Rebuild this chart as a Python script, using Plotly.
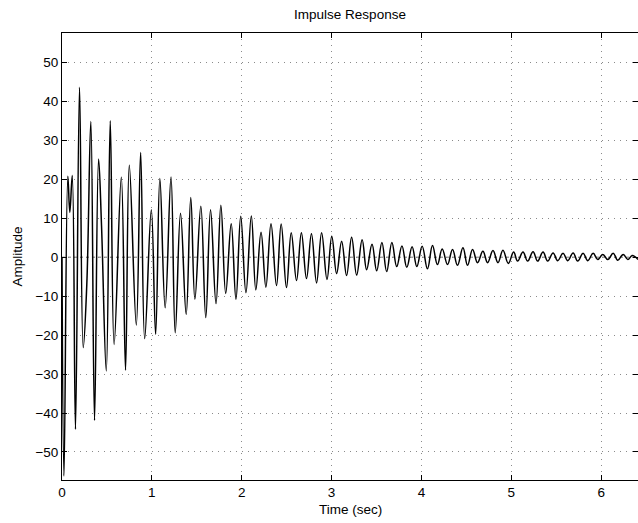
import plotly.graph_objects as go

# Extrema (and a few shape points) of the impulse response
time_sec = [
    0.000, 0.022, 0.065, 0.087, 0.114, 0.150, 0.195, 0.236, 0.276, 0.321,
    0.362, 0.407, 0.440, 0.493, 0.537, 0.580, 0.660, 0.707, 0.749, 0.827,
    0.875, 0.920, 0.994, 1.042, 1.089, 1.148, 1.213, 1.260, 1.319, 1.382,
    1.433, 1.479, 1.545, 1.600, 1.653, 1.714, 1.768, 1.822, 1.883, 1.936,
    1.989, 2.047, 2.107, 2.157, 2.215, 2.269, 2.326, 2.387, 2.439, 2.498,
    2.551, 2.610, 2.664, 2.721, 2.776, 2.833, 2.889, 2.949, 3.002, 3.056,
    3.112, 3.167, 3.223, 3.279, 3.340, 3.390, 3.450, 3.502, 3.560, 3.613,
    3.671, 3.725, 3.783, 3.837, 3.896, 3.949, 4.008, 4.067, 4.123, 4.178,
    4.231, 4.290, 4.346, 4.401, 4.462, 4.513, 4.569, 4.624, 4.684, 4.736,
    4.796, 4.852, 4.907, 4.967, 5.026, 5.070, 5.130, 5.182, 5.242, 5.293,
    5.353, 5.405, 5.465, 5.516, 5.576, 5.628, 5.688, 5.739, 5.799, 5.851,
    5.911, 5.962, 6.018, 6.074, 6.134, 6.185, 6.245, 6.297, 6.346, 6.410,
]
amplitude = [
    0.0, -56.2, 20.8, 11.5, 21.0, -44.2, 43.6, -23.2, -7.0, 34.8,
    -41.9, 25.2, 8.0, -29.2, 35.0, -22.4, 20.5, -29.0, 23.6, -17.4,
    26.9, -20.9, 12.2, -19.8, 20.2, -13.0, 20.6, -19.4, 11.3, -14.7,
    15.3, -10.8, 13.1, -15.5, 12.2, -11.9, 13.3, -9.3, 8.6, -10.8,
    10.5, -9.1, 10.6, -8.4, 6.4, -7.7, 8.6, -7.3, 8.5, -7.8,
    6.3, -6.0, 6.3, -5.5, 6.0, -6.6, 6.3, -5.7, 5.4, -4.2,
    4.1, -4.7, 5.1, -4.6, 4.5, -3.2, 3.3, -3.5, 3.8, -3.7,
    3.8, -2.4, 2.9, -2.6, 2.7, -2.4, 2.8, -3.0, 3.0, -1.9,
    2.1, -1.9, 2.0, -2.1, 2.4, -2.1, 2.0, -1.4, 1.5, -1.4,
    1.7, -1.4, 1.8, -1.6, 1.3, -1.0, 1.3, -1.0, 1.4, -1.0,
    1.3, -1.0, 1.1, -0.9, 1.0, -0.9, 1.1, -1.0, 1.0, -0.9,
    1.0, -0.6, 0.7, -0.6, 1.0, -0.8, 0.7, -0.6, 0.4, -0.6,
]

x_ticks = [0, 1, 2, 3, 4, 5, 6]
y_ticks = [-50, -40, -30, -20, -10, 0, 10, 20, 30, 40, 50]
x_range = [0, 6.41]
y_range = [-57.2, 57.55]

FONT = "Liberation Sans, Arial, Helvetica, sans-serif"
FS = 13.5

fig = go.Figure()
fig.add_trace(go.Scatter(
    x=time_sec, y=amplitude, mode="lines",
    line=dict(color="black", width=1.5, shape="spline", smoothing=1.15),
    hoverinfo="skip", showlegend=False,
))

# dashed zero reference line
fig.add_shape(type="line", xref="paper", x0=0, x1=1, yref="y", y0=0, y1=0,
              line=dict(color="#777777", width=1, dash="3px,3px"), layer="below")

axis_common = dict(
    showline=True, linecolor="black", linewidth=1, mirror="ticks",
    ticks="inside", ticklen=5, tickcolor="black", tickwidth=1,
    showgrid=True, gridcolor="#8a8a8a", gridwidth=1, griddash="1px,5px",
    zeroline=False, automargin=False,
    tickfont=dict(family=FONT, size=FS, color="black"),
)

fig.update_xaxes(range=x_range, tickvals=x_ticks, **axis_common)
fig.update_yaxes(range=y_range, tickvals=y_ticks, **axis_common)

fig.update_layout(
    width=638, height=523,
    margin=dict(l=62, r=0, t=33, b=43, autoexpand=False),
    paper_bgcolor="white", plot_bgcolor="white",
    title=dict(text="Impulse Response", x=0.5486, xanchor="center",
               y=(523 - 14) / 523, yanchor="middle", yref="container",
               font=dict(family=FONT, size=FS, color="black")),
    annotations=[
        dict(text="Time (sec)", xref="paper", yref="paper", x=0.5, y=-(509 - 480) / 447,
             xanchor="center", yanchor="middle", showarrow=False,
             font=dict(family=FONT, size=FS, color="black")),
        dict(text="Amplitude", xref="paper", yref="paper", x=-(62 - 17) / 576, y=0.5,
             xanchor="center", yanchor="middle", textangle=-90, showarrow=False,
             font=dict(family=FONT, size=FS, color="black")),
    ],
)

fig.write_html(
    "out.html",
    config={"displayModeBar": False},
    post_script="document.body.style.margin='0px';document.body.style.overflow='hidden';",
)
